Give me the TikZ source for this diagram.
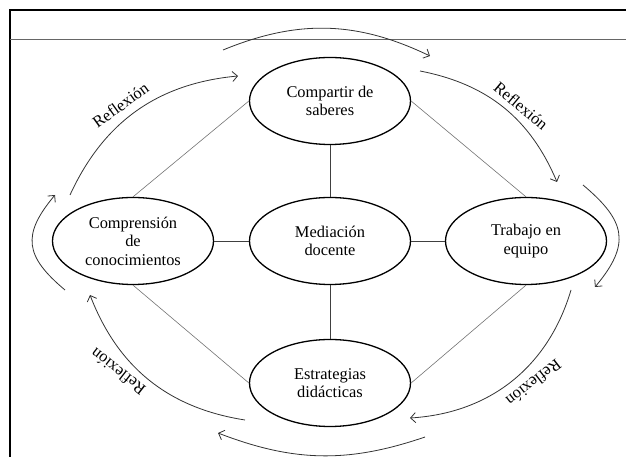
\documentclass[tikz,border=0pt]{standalone}
\usepackage{fontspec}
\setmainfont{Liberation Serif}
\usepackage{tikz}
\usetikzlibrary{shapes.geometric,arrows.meta}
\newcommand{\ideafont}{\fontsize{16.4}{18.5}\selectfont}

\begin{document}
\begin{tikzpicture}[x=1pt,y=1pt,>={Straight Barb[length=5pt,width=10pt]},thick]
\tikzstyle{idea}=[ellipse,draw,line width=1.3pt,align=center,minimum width=161pt,minimum height=87pt,inner sep=0pt,font=\ideafont]
\tikzstyle{link}=[draw=black!75,line width=0.8pt]
\tikzstyle{thin link}=[draw=black!55,line width=0.6pt]
\tikzstyle{cycle}=[->,draw=black!80,line width=0.8pt]
\tikzstyle{refl}=[font=\ideafont,inner sep=0pt]
\useasboundingbox (0,0) rectangle (626,457);
\draw[line width=1.4pt] (10,0) -- (10,447) -- (626,447);
\draw[line width=0.6pt,black!60] (10,418) -- (626,418);

\node[idea] (med) at (330,216) {Mediación\\docente};
\node[idea, above of=med, node distance=140pt] (comp) {Compartir de\\saberes};
\node[idea, below of=med, node distance=142pt] (estr) {Estrategias\\didácticas};
\node[idea, left of=med, node distance=197pt] (compr) {Comprensión\\de\\conocimientos};
\node[idea, right of=med, node distance=196pt] (trab) {Trabajo en\\equipo};

\draw[link] (comp) -- (med);
\draw[link] (med) -- (estr);
\draw[link] (compr) -- (med);
\draw[link] (med) -- (trab);
\draw[thin link] (compr.north) -- (comp.west);
\draw[thin link] (comp.east) -- (trab.north);
\draw[thin link] (compr.south) -- (estr.west);
\draw[thin link] (trab.south) -- (estr.east);

\coordinate (top s) at (223,407);
\coordinate (top e) at (430,401);
\coordinate (tl s) at (70,262);
\coordinate (tl e) at (238,381);
\coordinate (tr s) at (420,386);
\coordinate (tr e) at (557,275);
\coordinate (r s) at (583,272);
\coordinate (r e) at (595,170);
\coordinate (br s) at (571,167);
\coordinate (br e) at (410,39);
\coordinate (bot s) at (425,20);
\coordinate (bot e) at (218,24);
\coordinate (bl s) at (245,37);
\coordinate (bl e) at (90,162);
\coordinate (l s) at (65,167);
\coordinate (l e) at (55,262);

\draw[cycle] (top s) to[bend left=24] (top e);
\draw[cycle] (tl s) to[bend left=30] (tl e);
\draw[cycle] (tr s) to[bend left=28] (tr e);
\draw[cycle] (r s) to[out=-40,in=50,looseness=1.4] (r e);
\draw[cycle] (br s) to[bend left=35] (br e);
\draw[cycle] (bot s) to[bend left=20] (bot e);
\draw[cycle] (bl s) to[bend left=30] (bl e);
\draw[cycle] (l s) to[out=140,in=-130,looseness=1.4] (l e);

\node[refl, rotate=36] (refl tl) at (120.5,352) {Reflexión};
\node[refl, rotate=-40] (refl tr) at (521,351) {Reflexión};
\node[refl, rotate=-142] (refl br) at (534,74) {Reflexión};
\node[refl, rotate=142] (refl bl) at (118,85) {Reflexión};
\end{tikzpicture}
\end{document}
